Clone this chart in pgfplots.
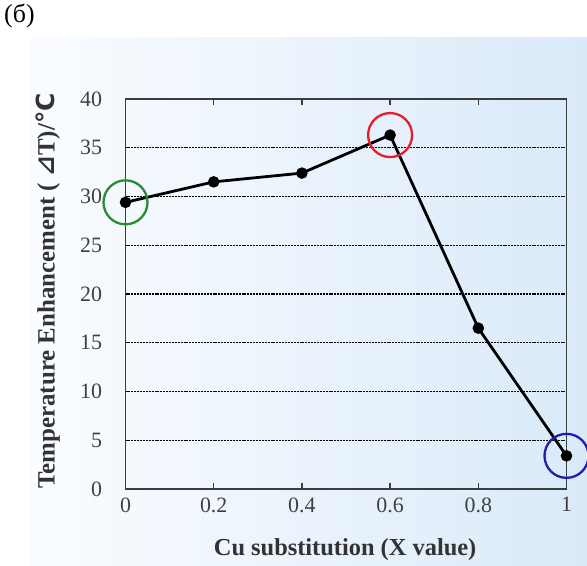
\documentclass[border=0pt]{standalone}
\usepackage{fontspec}
\setmainfont{Liberation Serif}
\newfontfamily\dejavu{DejaVu Sans}
\usepackage{pgfplots}
\pgfplotsset{compat=1.18}
\definecolor{bgA}{RGB}{250,252,255}
\definecolor{bgB}{RGB}{218,234,249}
\definecolor{cgreen}{RGB}{40,140,50}
\definecolor{cred}{RGB}{232,30,45}
\definecolor{cblue}{RGB}{30,30,175}
\definecolor{axgray}{RGB}{60,60,60}
\begin{document}
\begin{tikzpicture}[x=1bp,y=1bp]
\path[use as bounding box] (0,0) rectangle (587,566);
\shade[left color=bgA, right color=bgB] (30,0) rectangle (587,528);
\node[anchor=north west, inner sep=0pt, font=\fontsize{26}{29}\selectfont] at (4,562) {(б)};
\begin{axis}[
  at={(125.5bp,77bp)}, anchor=south west,
  scale only axis, width=441bp, height=390bp,
  xmin=0, xmax=1, ymin=0, ymax=40,
  xtick={0,0.2,0.4,0.6,0.8,1},
  xticklabels={0,0.2,0.4,0.6,0.8,1},
  ytick={0,5,...,40},
  clip=false,
  axis line style={axgray, line width=1.5bp},
  x tick style={axgray, line width=1.3bp},
  major tick length=6bp,
  tick pos=both,
  ytick style={draw=none},
  ymajorgrids,
  grid style={black, line width=1.4bp, dash pattern=on 2bp off 0.9bp},
  /pgf/number format/assume math mode=true,
  tick label style={font=\fontsize{22}{24}\selectfont, text=black!75},
  yticklabel style={xshift=-20bp},
  xticklabel style={yshift=-5bp},
  xlabel={\textbf{Cu substitution (X value)}},
  ylabel={\textbf{Temperature Enhancement ( {\dejavu ⊿}T)/{\dejavu °C}}},
  xlabel style={at={(axis description cs:0.498,-0.156)}, anchor=center, font=\fontsize{24.5}{27}\selectfont, text=black!80},
  ylabel style={at={(axis description cs:-0.176,0.508)}, anchor=center, rotate=0, font=\fontsize{25}{28}\selectfont, text=black!80},
]
\addplot[black, line width=2.8bp, mark=*, mark size=4.3bp] coordinates {
(0,29.4) (0.2,31.5) (0.4,32.4) (0.6,36.3) (0.8,16.5) (1,3.4)};
\addplot[only marks, mark=o, mark size=22bp, cgreen, line width=2.3bp] coordinates {(0,29.4)};
\addplot[only marks, mark=o, mark size=22bp, cred, line width=2.3bp] coordinates {(0.6,36.3)};
\addplot[only marks, mark=o, mark size=22bp, cblue, line width=2.3bp] coordinates {(1,3.4)};
\end{axis}
\end{tikzpicture}
\end{document}
